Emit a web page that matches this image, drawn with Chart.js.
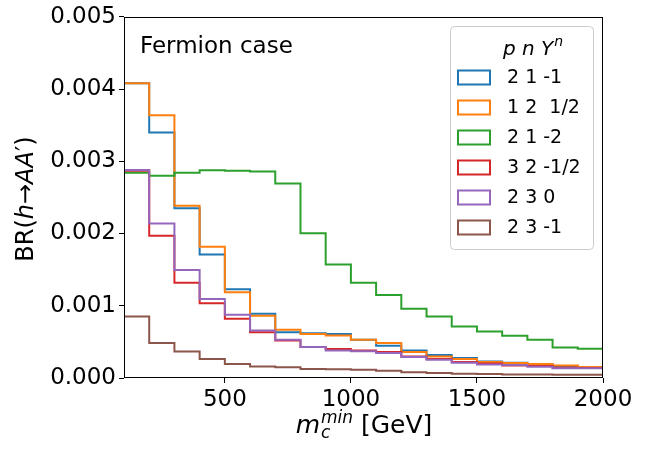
<!DOCTYPE html>
<html>
<head>
<meta charset="utf-8">
<script src="https://cdn.jsdelivr.net/npm/chart.js@4.4.0/dist/chart.umd.min.js"></script>
<style>
  html, body { margin: 0; padding: 0; background: #fff; }
  #wrap { width: 662px; height: 451px; }
</style>
</head>
<body>
<div id="wrap"><canvas id="brChart" width="662" height="451"></canvas></div>
<script>
// bin edges of the m_c^min histogram [GeV]
const binEdges = [100, 200, 300, 400, 500, 600, 700, 800, 900, 1000,
                  1100, 1200, 1300, 1400, 1500, 1600, 1700, 1800, 1900, 2000];

// BR(h -> AA') per bin, one list per (p, n, Y^n)
const br_21m1 = [0.00408, 0.00340, 0.00235, 0.00171, 0.00123, 0.00089, 0.000635, 0.00062, 0.00061, 0.00053,
                 0.000446, 0.000382, 0.000318, 0.000276, 0.00023, 0.00021, 0.00019, 0.000166, 0.00015];
const br_12h = [0.00408, 0.003637, 0.002384, 0.001818, 0.001188, 0.00086, 0.000667, 0.00061, 0.00059, 0.00053,
                0.000483, 0.000359, 0.000298, 0.000262, 0.000221, 0.000207, 0.000193, 0.000174, 0.000152];
const br_21m2 = [0.00284, 0.0028, 0.00284, 0.002877, 0.00287, 0.00286, 0.002693, 0.002003, 0.00157, 0.00132,
                 0.00115, 0.000957, 0.000851, 0.000713, 0.000644, 0.000584, 0.000529, 0.000423, 0.000405];
const br_32mh = [0.00287, 0.00197, 0.00132, 0.001036, 0.000819, 0.000635, 0.00052, 0.000428, 0.0004, 0.000381,
                 0.00036, 0.000298, 0.000262, 0.000221, 0.0002, 0.000174, 0.000166, 0.000143, 0.000138];
const br_230 = [0.00288, 0.00214, 0.001496, 0.001095, 0.000874, 0.000657, 0.000529, 0.00043, 0.00038, 0.00037,
                0.000345, 0.00029, 0.000253, 0.00021, 0.000188, 0.00018, 0.000157, 0.000134, 0.000134];
const br_23m1 = [0.000851, 0.000483, 0.000368, 0.000262, 0.000193, 0.00016, 0.00015, 0.000124, 0.00012, 0.000115,
                 0.0001, 0.000078, 0.00007, 0.00006, 0.000055, 0.00005, 0.000048, 0.000046, 0.000046];

const seriesLabels = ['2 1 -1', '1 2  1/2', '2 1 -2', '3 2 -1/2', '2 3 0', '2 3 -1'];
const seriesValues = [br_21m1, br_12h, br_21m2, br_32mh, br_230, br_23m1];
const seriesColors = ['#1f77b4', '#ff7f0e', '#2ca02c', '#d62728', '#9467bd', '#8c564b'];

const xTicks = [500, 1000, 1500, 2000];
const yTicks = [0, 0.001, 0.002, 0.003, 0.004, 0.005];

const FONT = "'DejaVu Sans', sans-serif";

// step outline like matplotlib histtype='step'
// with stepped:'after' chart.js goes up/down at the previous x first, then across
function stepPoints(values) {
    const pts = [{ x: binEdges[0], y: 0 }];
    values.forEach((v, i) => pts.push({ x: binEdges[i + 1], y: v }));
    pts.push({ x: binEdges[binEdges.length - 1], y: 0 });
    return pts;
}

const datasets = seriesValues.map((vals, i) => ({
    label: seriesLabels[i],
    data: stepPoints(vals),
    borderColor: seriesColors[i],
    borderWidth: 2,
    stepped: 'after',
    pointRadius: 0,
    fill: false,
    order: seriesValues.length - i
}));

const decorPlugin = {
    id: 'decor',
    afterDatasetsDraw(chart) {
        const ctx = chart.ctx;
        const a = chart.chartArea;
        ctx.save();
        // axes frame
        ctx.strokeStyle = '#000';
        ctx.lineWidth = 1;
        ctx.strokeRect(Math.round(a.left) + 0.5, Math.round(a.top) + 0.5,
                       Math.round(a.right - a.left) - 1, Math.round(a.bottom - a.top) - 1);

        // annotation
        ctx.fillStyle = '#000';
        ctx.textBaseline = 'alphabetic';
        ctx.textAlign = 'left';
        ctx.font = "23px " + FONT;
        ctx.fillText('Fermion case', 140, 53);

        // legend
        const lx = 450, ly = 26, lw = 143, lh = 223;
        ctx.beginPath();
        ctx.roundRect(lx + 0.5, ly + 0.5, lw, lh, 4);
        ctx.fillStyle = 'rgba(255,255,255,0.8)';
        ctx.fill();
        ctx.strokeStyle = '#cccccc';
        ctx.stroke();

        ctx.fillStyle = '#000';
        ctx.font = "italic 20px " + FONT;
        let tx = 503;
        ctx.fillText('p', tx, 55); tx += ctx.measureText('p ').width;
        ctx.fillText('n', tx, 55); tx += ctx.measureText('n ').width;
        ctx.fillText('Y', tx, 55); tx += ctx.measureText('Y').width + 1;
        ctx.font = "italic 14px " + FONT;
        ctx.fillText('n', tx, 46);

        ctx.font = "19px " + FONT;
        ctx.textBaseline = 'middle';
        seriesLabels.forEach((lab, i) => {
            const cy = 77.5 + i * 30;
            ctx.strokeStyle = seriesColors[i];
            ctx.lineWidth = 2;
            ctx.strokeRect(458, cy - 7, 32, 14);
            ctx.fillStyle = '#000';
            ctx.fillText(lab, 507, cy + 1);
        });

        // x axis title: m_c^min [GeV]
        ctx.textBaseline = 'alphabetic';
        const big = 25, small = 17;
        ctx.font = "italic " + big + "px " + FONT;
        const wm = ctx.measureText('m').width;
        ctx.font = "italic " + small + "px " + FONT;
        const wsup = ctx.measureText('min').width;
        ctx.font = big + "px " + FONT;
        const wrest = ctx.measureText(' [GeV]').width;
        const total = wm + 1 + wsup + wrest;
        let x0 = 364 - total / 2;
        const base = 433;
        ctx.font = "italic " + big + "px " + FONT;
        ctx.fillText('m', x0, base);
        ctx.font = "italic " + small + "px " + FONT;
        ctx.fillText('min', x0 + wm + 1, base - 10);
        ctx.fillText('c', x0 + wm + 1, base + 5);
        ctx.font = big + "px " + FONT;
        ctx.fillText(' [GeV]', x0 + wm + 1 + wsup, base);

        // y axis title: BR(h→AA′)
        ctx.translate(33, 199);
        ctx.rotate(-Math.PI / 2);
        const parts = [['BR(', false], ['h', true], ['→', false], ['AA', true], ['′', false], [')', false]];
        const fontOf = it => (it ? "italic " : "") + 24 + "px " + FONT;
        let w = 0;
        parts.forEach(p => { ctx.font = fontOf(p[1]); w += ctx.measureText(p[0]).width; });
        let px = -w / 2;
        parts.forEach(p => {
            ctx.font = fontOf(p[1]);
            ctx.fillText(p[0], px, 0);
            px += ctx.measureText(p[0]).width;
        });
        ctx.restore();
    }
};

new Chart(document.getElementById('brChart'), {
    type: 'line',
    data: { datasets: datasets },
    options: {
        responsive: false,
        animation: false,
        devicePixelRatio: 1,
        layout: { padding: { left: 0, right: 59, top: 16, bottom: 0 } },
        plugins: {
            legend: { display: false },
            tooltip: { enabled: false }
        },
        scales: {
            x: {
                type: 'linear',
                min: 100,
                max: 2000,
                afterBuildTicks: s => { s.ticks = xTicks.map(v => ({ value: v })); },
                afterFit: s => { s.height = 73; },
                grid: { display: true, drawOnChartArea: false, drawTicks: true, tickLength: 5, color: '#000' },
                border: { display: false },
                ticks: {
                    autoSkip: false, maxRotation: 0, padding: 3,
                    color: '#000', font: { family: FONT, size: 23 },
                    callback: v => String(v)
                }
            },
            y: {
                type: 'linear',
                min: 0,
                max: 0.005,
                afterBuildTicks: s => { s.ticks = yTicks.map(v => ({ value: v })); },
                afterFit: s => { s.width = 124; },
                grid: { display: true, drawOnChartArea: false, drawTicks: true, tickLength: 5, color: '#000' },
                border: { display: false },
                ticks: {
                    padding: 3,
                    color: '#000', font: { family: FONT, size: 23 },
                    callback: v => v.toFixed(3)
                }
            }
        }
    },
    plugins: [decorPlugin]
});
</script>
</body>
</html>
